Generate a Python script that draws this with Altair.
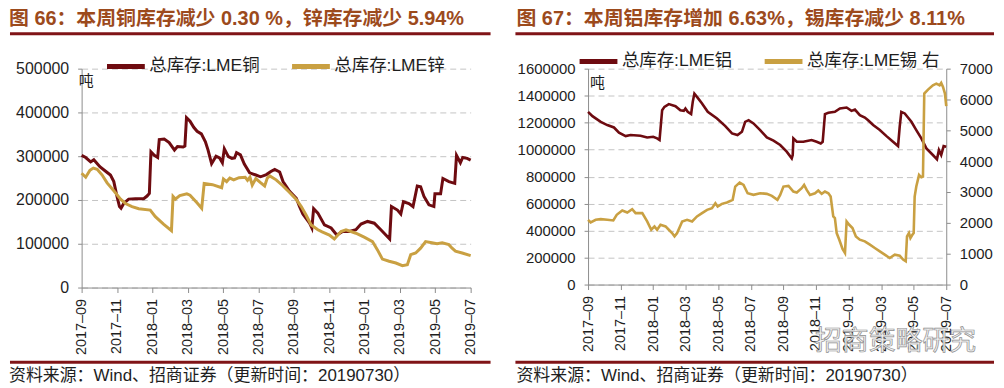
import json
import altair as alt
import pandas as pd

# ---------------- data ----------------
# x position = months since 2017-09 (0 = 2017-09, 22 = 2019-07)
x_labels = ["2017–09", "2017–11", "2018–01", "2018–03", "2018–05", "2018–07",
            "2018–09", "2018–11", "2019–01", "2019–03", "2019–05", "2019–07"]

cu_name = "总库存:LME铜"
zn_name = "总库存:LME锌"
al_name = "总库存:LME铝"
sn_name = "总库存:LME锡 右"

cu_m = [0, 0.23, 0.51, 0.69, 1.03, 1.41, 1.63, 1.82, 2.0, 2.14, 2.23, 2.38, 2.66, 3.04, 3.51,
        3.7, 3.83, 3.92, 4.11, 4.3, 4.39, 4.67, 4.95, 5.25, 5.42, 5.74, 5.84, 5.93, 6.13, 6.34,
        6.53, 6.77, 7.0, 7.15, 7.35, 7.6, 7.8, 7.96, 8.07, 8.3, 8.5, 8.65, 8.76, 8.98, 9.2,
        9.5, 9.85, 10.12, 10.45, 10.7, 10.92, 11.2, 11.39, 11.76, 12.14, 12.32, 12.51, 12.89, 13.02, 13.12,
        13.36, 13.73, 14.11, 14.43, 14.76, 15.14, 15.51, 15.8, 16.17, 16.55, 16.92, 17.42, 17.52, 17.86, 18.05,
        18.2, 18.51, 18.74, 18.98, 19.17, 19.36, 19.64, 19.92, 19.98, 20.3, 20.43, 20.77, 21.1, 21.2, 21.42,
        21.55, 21.8, 22.0]
cu_v = [302000, 297000, 287000, 292000, 276000, 264000, 257000, 242000, 208000, 185000,
        181000, 192000, 202000, 203000, 203000, 209000, 215000, 310000, 302000, 297000,
        338000, 339000, 331000, 314000, 322000, 321000, 323000, 388000, 380000, 366000,
        357000, 351000, 333000, 314000, 283000, 300000, 296000, 285000, 317000, 299000,
        295000, 296000, 308000, 303000, 282000, 262000, 257000, 253000, 258000, 265000,
        270000, 264000, 242000, 220000, 204000, 185000, 168000, 147000, 136000, 180000,
        170000, 143000, 136000, 120000, 128000, 128000, 132000, 145000, 151000, 147000,
        132000, 111000, 185000, 177000, 168000, 196000, 192000, 185000, 232000, 230000,
        208000, 189000, 185000, 214000, 214000, 249000, 242000, 238000, 302000, 285000,
        297000, 295000, 291000]

zn_m = [0, 0.23, 0.47, 0.66, 0.88, 1.16, 1.44, 1.82, 2.2, 2.48, 2.85, 3.23, 3.88, 4.17, 4.63,
        5.08, 5.17, 5.3, 5.55, 5.95, 6.13, 6.51, 6.79, 6.93, 7.4, 7.92, 8.02, 8.2, 8.38, 8.6,
        8.9, 9.25, 9.38, 9.52, 9.65, 9.85, 10.1, 10.35, 10.5, 10.64, 11.0, 11.39, 11.76, 12.14, 12.42,
        12.7, 12.98, 13.36, 13.6, 14.01, 14.29, 14.67, 14.95, 15.51, 15.98, 16.45, 16.73, 17.01, 17.39, 17.77,
        18.14, 18.42, 18.61, 18.89, 19.17, 19.45, 19.73, 20.1, 20.39, 20.77, 20.95, 21.14, 21.52, 22.0]
zn_v = [261000, 252000, 268000, 273000, 270000, 257000, 239000, 221000, 202000, 192000,
        185000, 180000, 177000, 162000, 145000, 130000, 208000, 202000, 210000, 214000,
        211000, 194000, 181000, 238000, 235000, 228000, 248000, 242000, 250000, 246000,
        251000, 252000, 245000, 252000, 234000, 249000, 240000, 232000, 250000, 255000,
        246000, 232000, 217000, 201000, 185000, 165000, 143000, 132000, 127000, 120000,
        111000, 128000, 132000, 124000, 115000, 105000, 86000, 65000, 60000, 56000,
        50000, 52000, 75000, 79000, 90000, 105000, 103000, 100000, 102000, 98000,
        90000, 83000, 79000, 73000]

al_m = [0, 0.27, 0.78, 1.18, 1.59, 1.9, 2.31, 2.61, 3.22, 3.63, 4.0, 4.24, 4.39, 4.55, 4.69,
        4.96, 5.37, 5.67, 5.88, 5.98, 6.12, 6.33, 6.43, 6.53, 6.69, 7.0, 7.35, 7.92, 8.43, 8.84,
        9.18, 9.45, 9.65, 9.86, 10.16, 10.57, 10.98, 11.39, 11.8, 12.2, 12.51, 12.57, 12.61, 12.82, 13.22,
        13.73, 14.04, 14.29, 14.41, 14.55, 14.76, 15.16, 15.47, 15.88, 16.18, 16.39, 16.69, 17.0, 17.2, 17.51,
        17.92, 18.33, 18.73, 19.04, 19.14, 19.24, 19.45, 19.86, 20.16, 20.47, 20.78, 21.18, 21.43, 21.55, 21.69,
        21.84, 22.0]
al_v = [1280000, 1248000, 1206000, 1182000, 1164000, 1125000, 1100000, 1108000, 1103000, 1090000,
        1095000, 1083000, 1071000, 1292000, 1317000, 1337000, 1322000, 1292000, 1287000, 1305000,
        1280000, 1263000, 1354000, 1415000, 1391000, 1342000, 1280000, 1231000, 1174000, 1120000,
        1108000, 1132000, 1206000, 1218000, 1194000, 1145000, 1090000, 1066000, 1034000, 985000,
        935000, 960000, 1083000, 1058000, 1058000, 1071000, 1058000, 1046000, 1058000, 1263000,
        1273000, 1280000, 1305000, 1312000, 1287000, 1297000, 1255000, 1238000, 1218000, 1182000,
        1145000, 1100000, 1058000, 1026000, 1169000, 1280000, 1268000, 1206000, 1145000, 1083000,
        1009000, 960000, 928000, 997000, 960000, 1026000, 1022000]

sn_m = [0, 0.16, 0.47, 0.78, 1.18, 1.55, 1.76, 2.1, 2.41, 2.71, 2.92, 3.33, 3.63, 3.88, 4.08,
        4.24, 4.45, 4.76, 4.96, 5.16, 5.31, 5.47, 5.78, 6.08, 6.39, 6.69, 7.0, 7.31, 7.61, 7.82,
        7.96, 8.22, 8.53, 8.88, 9.04, 9.31, 9.55, 9.8, 10.16, 10.57, 10.98, 11.29, 11.63, 11.8, 12.0,
        12.31, 12.61, 12.82, 13.12, 13.27, 13.43, 13.63, 13.94, 14.14, 14.35, 14.55, 14.76, 14.9, 15.06, 15.16,
        15.27, 15.43, 15.63, 15.78, 15.88, 16.04, 16.24, 16.45, 16.69, 17.0, 17.31, 17.61, 17.92, 18.22, 18.53,
        18.84, 19.14, 19.35, 19.51, 19.59, 19.71, 19.8, 19.92, 20.0, 20.06, 20.16, 20.33, 20.47, 20.57, 20.65,
        20.88, 21.18, 21.39, 21.59, 21.69, 21.8, 21.92, 22.0]
sn_v = [2100, 2014, 2100, 2121, 2100, 2078, 2261, 2401, 2337, 2444, 2315, 2315, 2046, 1777, 1885,
        1777, 1938, 1885, 1777, 1669, 1562, 1669, 2046, 2100, 2046, 2208, 2315, 2423, 2477, 2638,
        2531, 2617, 2660, 2746, 3177, 3306, 3231, 2961, 2908, 2961, 2940, 2875, 2746, 2908, 3177,
        3198, 3015, 2983, 3123, 3231, 3069, 2908, 2961, 3048, 2940, 3015, 2961, 2854, 2208, 2154,
        1669, 1454, 1152, 1023, 2046, 1938, 1831, 1562, 1454, 1400, 1292, 1185, 1077, 969, 862,
        969, 937, 808, 754, 1562, 1669, 1508, 1615, 1669, 2854, 3177, 3554, 3478, 3500, 6192,
        6321, 6461, 6515, 6461, 6537, 6408, 6192, 5783]

left_ticks = [0, 100000, 200000, 300000, 400000, 500000]
al_ticks = [0, 200000, 400000, 600000, 800000, 1000000, 1200000, 1400000, 1600000]
sn_ticks = [0, 1000, 2000, 3000, 4000, 5000, 6000, 7000]

title_left = "图 66：本周铜库存减少 0.30 %，锌库存减少 5.94%"
title_right = "图 67：本周铝库存增加 6.63%，锡库存减少 8.11%"
source_text = "资料来源：Wind、招商证券（更新时间：20190730）"
unit_text = "吨"
watermark = "招商策略研究"

# ---------------- styling ----------------
FONT = "Liberation Sans, Noto Sans CJK SC"
RED = "#6E0B10"
GOLD = "#C9A042"
GRAY = "#8C8C8C"
TXT = "#1E1E1E"
TITLE_C = "#9C4A1C"
RULE_C = "#801417"

label_expr = json.dumps(x_labels, ensure_ascii=False) + "[round(datum.value / 2)]"


def x_enc():
    return alt.X("m:Q", scale=alt.Scale(domain=[0, 22], nice=False, zero=False),
                 axis=alt.Axis(values=list(range(0, 23, 2)), labelExpr=label_expr, labelAngle=270,
                               labelFontSize=14.5, labelPadding=6, tickSize=5, grid=False, title=None,
                               labelOverlap=False, domainColor=GRAY, tickColor=GRAY, labelColor=TXT,
                               labelFont=FONT))


def y_axis(vals, size, orient="left", grid=True):
    return alt.Axis(values=vals, format="d", orient=orient, grid=grid, gridDash=[6, 4],
                    gridColor="#C4C4C4", domainColor=GRAY, tickColor=GRAY, tickSize=4,
                    labelPadding=9, labelFontSize=size, labelColor=TXT, labelFont=FONT, title=None)


def legend(lx, ly):
    return alt.Legend(orient="none", legendX=lx, legendY=ly, direction="horizontal", title=None,
                      symbolType="stroke", symbolSize=1444, symbolStrokeWidth=5, labelFontSize=17.5,
                      labelFont=FONT, labelColor=TXT, columnPadding=22, labelOffset=2, padding=0)


def text_layer(txt, x, y, size, color, weight="normal", **kw):
    return alt.Chart(pd.DataFrame({"t": [txt]})).mark_text(
        align="left", baseline="middle", fontSize=size, fontWeight=weight, color=color, font=FONT, **kw
    ).encode(text="t:N", x=alt.value(x), y=alt.value(y))


def hrule(x1, x2, y):
    return alt.Chart(pd.DataFrame({"a": [0]})).mark_rule(color=RULE_C, strokeWidth=3).encode(
        x=alt.value(x1), x2=alt.value(x2), y=alt.value(y))


# ---------------- left panel ----------------
left_df = pd.DataFrame({
    "m": cu_m + zn_m,
    "v": cu_v + zn_v,
    "s": [cu_name] * len(cu_m) + [zn_name] * len(zn_m),
})
left_lines = alt.Chart(left_df).mark_line(strokeWidth=3).encode(
    x=x_enc(),
    y=alt.Y("v:Q", scale=alt.Scale(domain=[0, 500000], nice=False), axis=y_axis(left_ticks, 16)),
    color=alt.Color("s:N", scale=alt.Scale(domain=[cu_name, zn_name], range=[RED, GOLD]),
                    legend=legend(23, -24)),
)
left = alt.layer(
    left_lines,
    text_layer(unit_text, -3, 12, 15, TXT),
    text_layer(title_left, -73, -50, 20, TITLE_C, "bold"),
    hrule(-72, 411, -35),
    hrule(-72, 411, 295),
    text_layer(source_text, -73, 309, 17, TXT),
).properties(width=391, height=220)

# ---------------- right panel ----------------
al_df = pd.DataFrame({"m": al_m, "v": al_v, "s": [al_name] * len(al_m)})
sn_df = pd.DataFrame({"m": sn_m, "v": sn_v, "s": [sn_name] * len(sn_m)})
color_r = alt.Color("s:N", scale=alt.Scale(domain=[al_name, sn_name], range=[RED, GOLD]),
                    legend=legend(-11, -29))
al_line = alt.Chart(al_df).mark_line(strokeWidth=2.6).encode(
    x=x_enc(),
    y=alt.Y("v:Q", scale=alt.Scale(domain=[0, 1600000], nice=False), axis=y_axis(al_ticks, 15)),
    color=color_r,
)
sn_line = alt.Chart(sn_df).mark_line(strokeWidth=2.6).encode(
    x=x_enc(),
    y=alt.Y("v:Q", scale=alt.Scale(domain=[0, 7000], nice=False),
            axis=y_axis(sn_ticks, 15, orient="right", grid=False)),
    color=color_r,
)
right = alt.layer(
    al_line, sn_line,
    text_layer(unit_text, 2, 14, 15, TXT),
    text_layer(watermark, 228, 275, 27, "#F2F2F2", stroke="#8F8F8F", strokeWidth=0.7),
    text_layer(title_right, -72, -50, 20, TITLE_C, "bold"),
    hrule(-73, 408, -35),
    hrule(-73, 408, 295),
    text_layer(source_text, -72, 309, 17, TXT),
).resolve_scale(y="independent").properties(width=360, height=217)

chart = alt.hconcat(left, right, spacing=21).resolve_scale(color="independent").properties(
    padding=0
).configure_view(stroke=None)

chart.save("out.html", embed_options={"renderer": "svg", "actions": False})
